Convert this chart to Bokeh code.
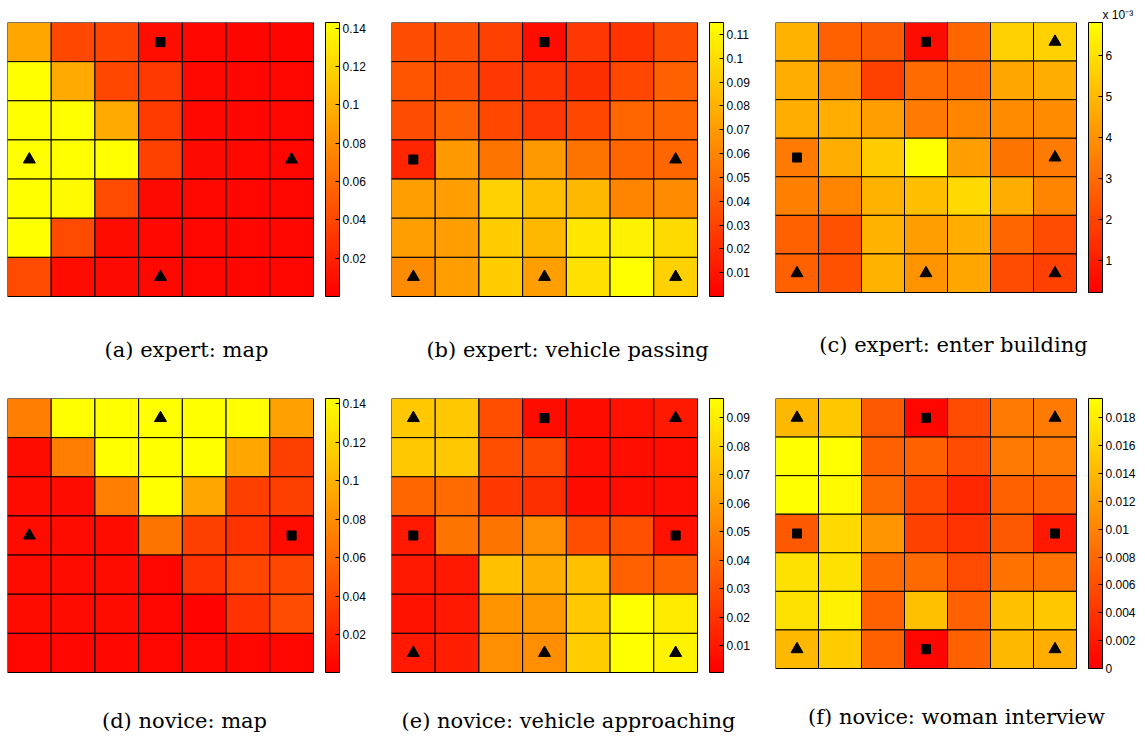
from bokeh.plotting import figure
from bokeh.models import (LinearColorMapper, ColorBar, FixedTicker,
                          CustomJSTickFormatter, Title, ColumnDataSource)
from bokeh.core.properties import value
from bokeh.layouts import row, column
from bokeh.embed import file_html
from bokeh.resources import INLINE

# ---------------------------------------------------------------------------
# 7x7 probability grids, rows listed top to bottom, columns left to right
# ---------------------------------------------------------------------------
expert_map = [
    [0.093, 0.040, 0.038, 0.008, 0.004, 0.003, 0.003],
    [0.143, 0.095, 0.040, 0.032, 0.005, 0.004, 0.004],
    [0.143, 0.143, 0.095, 0.033, 0.005, 0.004, 0.004],
    [0.143, 0.143, 0.143, 0.036, 0.006, 0.005, 0.004],
    [0.143, 0.140, 0.042, 0.006, 0.005, 0.004, 0.004],
    [0.143, 0.042, 0.007, 0.005, 0.004, 0.004, 0.004],
    [0.042, 0.007, 0.006, 0.005, 0.004, 0.004, 0.004],
]
expert_vehicle_passing = [
    [0.035, 0.035, 0.029, 0.006, 0.025, 0.023, 0.035],
    [0.038, 0.035, 0.025, 0.023, 0.021, 0.032, 0.044],
    [0.035, 0.044, 0.032, 0.025, 0.032, 0.046, 0.046],
    [0.017, 0.069, 0.052, 0.069, 0.052, 0.046, 0.046],
    [0.071, 0.071, 0.094, 0.086, 0.083, 0.060, 0.063],
    [0.071, 0.071, 0.092, 0.083, 0.104, 0.109, 0.098],
    [0.063, 0.071, 0.092, 0.071, 0.101, 0.115, 0.094],
]
# in units of 1e-3
expert_enter_building = [
    [4.82, 2.71, 2.52, 0.54, 2.85, 5.61, 5.61],
    [4.69, 3.83, 1.86, 2.98, 2.98, 4.49, 4.69],
    [4.69, 4.69, 4.30, 3.37, 3.64, 3.83, 3.83],
    [3.37, 4.69, 5.48, 6.80, 4.30, 3.18, 3.37],
    [3.51, 3.64, 4.82, 5.15, 5.81, 4.69, 3.64],
    [2.71, 2.32, 4.82, 4.30, 4.69, 2.85, 2.19],
    [2.71, 2.32, 4.82, 4.03, 4.49, 2.19, 1.86],
]
novice_map = [
    [0.070, 0.143, 0.143, 0.143, 0.143, 0.143, 0.090],
    [0.007, 0.070, 0.143, 0.143, 0.143, 0.093, 0.036],
    [0.007, 0.007, 0.070, 0.143, 0.093, 0.036, 0.036],
    [0.007, 0.007, 0.007, 0.065, 0.036, 0.029, 0.007],
    [0.007, 0.007, 0.007, 0.004, 0.029, 0.040, 0.040],
    [0.007, 0.007, 0.007, 0.004, 0.003, 0.029, 0.043],
    [0.004, 0.004, 0.004, 0.004, 0.004, 0.004, 0.004],
]
novice_vehicle_approaching = [
    [0.076, 0.076, 0.030, 0.005, 0.005, 0.008, 0.010],
    [0.076, 0.076, 0.030, 0.028, 0.006, 0.006, 0.006],
    [0.039, 0.041, 0.022, 0.018, 0.005, 0.006, 0.006],
    [0.010, 0.044, 0.044, 0.054, 0.030, 0.031, 0.008],
    [0.010, 0.010, 0.073, 0.066, 0.073, 0.037, 0.037],
    [0.008, 0.010, 0.056, 0.058, 0.076, 0.097, 0.089],
    [0.010, 0.012, 0.054, 0.054, 0.078, 0.097, 0.092],
]
novice_woman_interview = [
    [0.0140, 0.0151, 0.0068, 0.0006, 0.0058, 0.0093, 0.0093],
    [0.0194, 0.0194, 0.0074, 0.0074, 0.0058, 0.0093, 0.0093],
    [0.0194, 0.0190, 0.0081, 0.0054, 0.0029, 0.0074, 0.0074],
    [0.0068, 0.0165, 0.0113, 0.0049, 0.0039, 0.0068, 0.0019],
    [0.0171, 0.0171, 0.0081, 0.0081, 0.0058, 0.0087, 0.0087],
    [0.0171, 0.0184, 0.0074, 0.0146, 0.0074, 0.0146, 0.0151],
    [0.0140, 0.0155, 0.0074, 0.0006, 0.0074, 0.0140, 0.0132],
]

# colour limits of each panel
expert_map_clim = (0.0, 0.143)
expert_vehicle_passing_clim = (0.0, 0.115)
expert_enter_building_clim = (0.21, 6.8)
novice_map_clim = (0.0005, 0.1426)
novice_vehicle_approaching_clim = (0.0006, 0.0968)
novice_woman_interview_clim = (0.0, 0.0194)

# colour bar ticks
ticks_map = [0.02, 0.04, 0.06, 0.08, 0.1, 0.12, 0.14]
ticks_vehicle_passing = [0.01, 0.02, 0.03, 0.04, 0.05, 0.06, 0.07, 0.08, 0.09, 0.1, 0.11]
ticks_enter_building = [1, 2, 3, 4, 5, 6]
ticks_vehicle_approaching = [0.01, 0.02, 0.03, 0.04, 0.05, 0.06, 0.07, 0.08, 0.09]
ticks_woman_interview = [0, 0.002, 0.004, 0.006, 0.008, 0.01, 0.012, 0.014, 0.016, 0.018]

# marker cells as (row, col)
expert_map_triangles = [(3, 0), (3, 6), (6, 3)]
expert_map_squares = [(0, 3)]
expert_vehicle_passing_triangles = [(3, 6), (6, 0), (6, 3), (6, 6)]
expert_vehicle_passing_squares = [(0, 3), (3, 0)]
expert_enter_building_triangles = [(0, 6), (3, 6), (6, 0), (6, 3), (6, 6)]
expert_enter_building_squares = [(0, 3), (3, 0)]
novice_map_triangles = [(0, 3), (3, 0)]
novice_map_squares = [(3, 6)]
novice_vehicle_approaching_triangles = [(0, 0), (0, 6), (6, 0), (6, 3), (6, 6)]
novice_vehicle_approaching_squares = [(0, 3), (3, 0), (3, 6)]
novice_woman_interview_triangles = [(0, 0), (0, 6), (6, 0), (6, 6)]
novice_woman_interview_squares = [(0, 3), (3, 0), (3, 6), (6, 3)]

captions = [
    "(a) expert: map",
    "(b) expert: vehicle passing",
    "(c) expert: enter building",
    "(d) novice: map",
    "(e) novice: vehicle approaching",
    "(f) novice: woman interview",
]

# red -> yellow ramp ("autumn")
AUTUMN = ["#ff%02x00" % g for g in range(256)]
N = 7
CBAR_GAP = 12      # space between grid and colour bar
CBAR_WIDTH = 14
LEFT = 7


def make_panel(grid, clim, ticks, triangles, squares, caption,
               grid_w, grid_h, top, bottom, total_w, caption_cx, caption_dy,
               exponent=None):
    # the plotting frame spans the grid, its colour bar and the caption
    # strip underneath; the grid occupies the top-left grid_w x grid_h px
    frame_w = total_w - LEFT
    frame_h = grid_h + bottom
    sx = N / grid_w          # data units per pixel
    sy = N / grid_h
    p = figure(frame_width=frame_w, frame_height=frame_h,
               x_range=(0, frame_w * sx), y_range=(-bottom * sy, N),
               x_axis_location=None, y_axis_location=None,
               toolbar_location=None, output_backend="svg",
               min_border_left=LEFT, min_border_right=0,
               min_border_top=top, min_border_bottom=0,
               outline_line_color=None,
               background_fill_color="white", border_fill_color="white")
    p.grid.visible = False

    xs, ys, vs = [], [], []
    for r in range(N):
        for c in range(N):
            xs.append(c + 0.5)
            ys.append(N - 0.5 - r)
            vs.append(grid[r][c])
    src = ColumnDataSource(dict(x=xs, y=ys, v=vs))
    mapper = LinearColorMapper(palette=AUTUMN, low=clim[0], high=clim[1])
    p.rect("x", "y", width=1, height=1, source=src,
           fill_color={"field": "v", "transform": mapper},
           line_color="black", line_width=1)

    p.scatter([c + 0.5 for r, c in triangles], [N - 0.5 - r for r, c in triangles],
              marker="triangle", size=12, color="black")
    p.scatter([c + 0.5 for r, c in squares], [N - 0.5 - r for r, c in squares],
              marker="square", size=9, color="black")

    cb = ColorBar(color_mapper=mapper, ticker=FixedTicker(ticks=ticks),
                  formatter=CustomJSTickFormatter(
                      code="return String(parseFloat(tick.toFixed(6)));"),
                  location=(grid_w + CBAR_GAP, bottom),
                  width=CBAR_WIDTH, height=grid_h, padding=0, margin=0,
                  label_standoff=3,
                  major_tick_in=4, major_tick_out=0,
                  major_tick_line_color="black", bar_line_color="black",
                  major_label_text_font="Liberation Sans",
                  major_label_text_font_size="12px",
                  major_label_text_color="black",
                  border_line_color=None, background_fill_color=None)
    p.add_layout(cb)

    if exponent:
        p.add_layout(Title(text=exponent, align="left",
                           offset=grid_w + CBAR_GAP + CBAR_WIDTH, standoff=2,
                           text_font="Liberation Sans", text_font_size="12px",
                           text_font_style="normal", text_color="black"),
                     "above")

    p.text(x=[caption_cx * sx], y=[-caption_dy * sy], text=[caption],
           text_align="center", text_baseline="middle",
           text_font=value("DejaVu Serif"), text_font_size="21px",
           text_color="black")
    return p


pa = make_panel(expert_map, expert_map_clim, ticks_map,
                expert_map_triangles, expert_map_squares, captions[0],
                306, 274, 17, 86, 384, 179, 53)
pb = make_panel(expert_vehicle_passing, expert_vehicle_passing_clim,
                ticks_vehicle_passing, expert_vehicle_passing_triangles,
                expert_vehicle_passing_squares, captions[1],
                306, 274, 17, 86, 384, 176, 53)
pc = make_panel(expert_enter_building, expert_enter_building_clim,
                ticks_enter_building, expert_enter_building_triangles,
                expert_enter_building_squares, captions[2],
                301, 270, 22, 85, 377, 178, 52,
                exponent="x 10\u207b\u00b3")
pd = make_panel(novice_map, novice_map_clim, ticks_map,
                novice_map_triangles, novice_map_squares, captions[3],
                306, 274, 17, 70, 384, 177, 48)
pe = make_panel(novice_vehicle_approaching, novice_vehicle_approaching_clim,
                ticks_vehicle_approaching, novice_vehicle_approaching_triangles,
                novice_vehicle_approaching_squares, captions[4],
                306, 274, 17, 70, 384, 177, 48)
pf = make_panel(novice_woman_interview, novice_woman_interview_clim,
                ticks_woman_interview, novice_woman_interview_triangles,
                novice_woman_interview_squares, captions[5],
                301, 270, 21, 70, 377, 181, 48)

layout = column(row(pa, pb, pc), row(pd, pe, pf))

with open("out.html", "w") as f:
    f.write(file_html(layout, INLINE))
